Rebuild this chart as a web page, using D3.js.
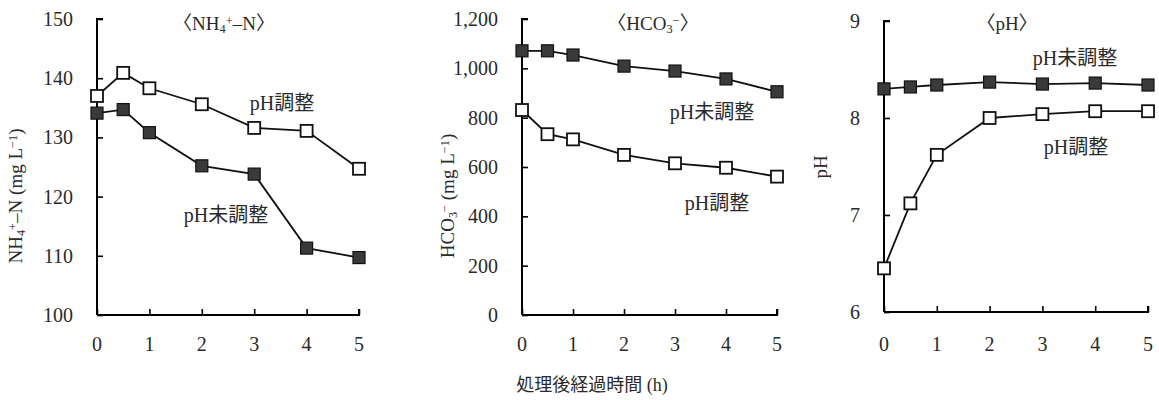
<!DOCTYPE html>
<html>
<head>
<meta charset="utf-8">
<script src="https://cdn.jsdelivr.net/npm/d3@7"></script>
<style>
  body { margin: 0; background: #fff; }
  svg { display: block; }
  text { font-family: "Liberation Serif", "DejaVu Serif", "Noto Sans CJK JP", serif; fill: #2a2a2a; }
  .jp { font-family: "Liberation Serif", "Noto Sans CJK JP", sans-serif; }
</style>
</head>
<body>
<svg width="1159" height="400"></svg>
<script>
const hours = [0, 0.5, 1, 2, 3, 4, 5];
const xTicks = [0, 1, 2, 3, 4, 5];

// NH4+-N (mg/L)
const nh4Adjusted = [137.0, 140.9, 138.3, 135.6, 131.6, 131.1, 124.7];
const nh4Unadjusted = [134.1, 134.7, 130.8, 125.2, 123.8, 111.3, 109.7];
const nh4Ticks = [100, 110, 120, 130, 140, 150];

// HCO3- (mg/L)
const hco3Adjusted = [831, 733, 712, 649, 615, 597, 561];
const hco3Unadjusted = [1071, 1071, 1054, 1009, 989, 957, 905];
const hco3Ticks = [0, 200, 400, 600, 800, 1000, 1200];

// pH
const phAdjusted = [6.45, 7.12, 7.62, 8.0, 8.04, 8.07, 8.07];
const phUnadjusted = [8.30, 8.32, 8.34, 8.37, 8.35, 8.36, 8.34];
const phTicks = [6, 7, 8, 9];

const svg = d3.select('svg');

const panels = [
  {
    left: 97, right: 359, top: 19, bottom: 315,
    domain: [100, 150], ticks: nh4Ticks, fmt: d3.format('d'),
    adjusted: nh4Adjusted, unadjusted: nh4Unadjusted,
    title: [['〈NH', 0], ['4', 1], ['+', -1], ['–N〉', 0]], titleX: 224,
    ylabel: [['NH', 0], ['4', 1], ['+', -1], ['–N (mg L', 0], ['−1', -1], [')', 0]], ylabelX: 22, ylabelY: 196,
    adjLabel: [282, 110], unadjLabel: [226, 222]
  },
  {
    left: 522, right: 777, top: 19, bottom: 315,
    domain: [0, 1200], ticks: hco3Ticks, fmt: d3.format(','),
    adjusted: hco3Adjusted, unadjusted: hco3Unadjusted,
    title: [['〈HCO', 0], ['3', 1], ['−', -1], ['〉', 0]], titleX: 653,
    ylabel: [['HCO', 0], ['3', 1], ['−', -1], [' (mg L', 0], ['−1', -1], [')', 0]], ylabelX: 454, ylabelY: 196,
    adjLabel: [717, 210], unadjLabel: [712, 119]
  },
  {
    left: 884, right: 1148, top: 21, bottom: 312,
    domain: [6, 9], ticks: phTicks, fmt: d3.format('d'),
    adjusted: phAdjusted, unadjusted: phUnadjusted,
    title: [['〈pH〉', 0]], titleX: 1007,
    ylabel: [['pH', 0]], ylabelX: 827, ylabelY: 167,
    adjLabel: [1076, 154], unadjLabel: [1075, 65]
  }
];

function richText(sel, parts, size) {
  parts.forEach(([s, shift]) => {
    const t = sel.append('tspan').text(s);
    if (shift !== 0) {
      t.attr('font-size', size * 0.65).attr('baseline-shift', shift > 0 ? '-25%' : '45%');
    }
  });
}

panels.forEach(p => {
  const x = d3.scaleLinear().domain([0, 5]).range([p.left, p.right]);
  const y = d3.scaleLinear().domain(p.domain).range([p.bottom, p.top]);
  const g = svg.append('g');

  // y axis, ticks pointing inward
  const yAxis = d3.axisRight(y).tickValues(p.ticks).tickSize(6).tickFormat('');
  g.append('g').attr('transform', `translate(${p.left},0)`).call(yAxis)
    .call(a => a.select('.domain').attr('stroke-width', 2).attr('d', `M6,${p.top}H0V${p.bottom}`))
    .call(a => a.selectAll('.tick line').attr('stroke-width', 1.6));

  g.selectAll('.ylab').data(p.ticks).enter().append('text')
    .attr('x', p.left - 24).attr('y', d => y(d)).attr('dy', '0.35em')
    .attr('text-anchor', 'end').attr('font-size', 20)
    .text(d => p.fmt(d));

  // x axis, ticks pointing up
  const xAxis = d3.axisTop(x).tickValues(xTicks).tickSize(6).tickFormat('');
  g.append('g').attr('transform', `translate(0,${p.bottom})`).call(xAxis)
    .call(a => a.select('.domain').attr('stroke-width', 2).attr('d', `M${p.left},0H${p.right}V-6`))
    .call(a => a.selectAll('.tick line').attr('stroke-width', 1.6));

  g.selectAll('.xlab').data(xTicks).enter().append('text')
    .attr('x', d => x(d)).attr('y', 351)
    .attr('text-anchor', 'middle').attr('font-size', 20)
    .text(d => d);

  const line = d3.line().x((d, i) => x(hours[i])).y(d => y(d));
  [p.adjusted, p.unadjusted].forEach(series => {
    g.append('path').datum(series).attr('d', line)
      .attr('fill', 'none').attr('stroke', '#111').attr('stroke-width', 1.8);
  });

  const s = 12;
  g.selectAll('.adj').data(p.adjusted).enter().append('rect')
    .attr('x', (d, i) => x(hours[i]) - s / 2).attr('y', d => y(d) - s / 2)
    .attr('width', s).attr('height', s)
    .attr('fill', '#fff').attr('stroke', '#111').attr('stroke-width', 1.8);
  g.selectAll('.unadj').data(p.unadjusted).enter().append('rect')
    .attr('x', (d, i) => x(hours[i]) - s / 2).attr('y', d => y(d) - s / 2)
    .attr('width', s).attr('height', s)
    .attr('fill', '#3a3a3a').attr('stroke', '#111').attr('stroke-width', 1.2);

  // title
  const t = g.append('text').attr('x', p.titleX).attr('y', 30)
    .attr('text-anchor', 'middle').attr('font-size', 19);
  richText(t, p.title, 19);

  // y label
  const yl = g.append('text')
    .attr('transform', `translate(${p.ylabelX},${p.ylabelY}) rotate(-90)`)
    .attr('text-anchor', 'middle').attr('font-size', 19);
  richText(yl, p.ylabel, 19);

  g.append('text').attr('class', 'jp').attr('x', p.adjLabel[0]).attr('y', p.adjLabel[1])
    .attr('text-anchor', 'middle').attr('font-size', 20).text('pH調整');
  g.append('text').attr('class', 'jp').attr('x', p.unadjLabel[0]).attr('y', p.unadjLabel[1])
    .attr('text-anchor', 'middle').attr('font-size', 20).text('pH未調整');
});

svg.append('text').attr('class', 'jp').attr('x', 592).attr('y', 391)
  .attr('text-anchor', 'middle').attr('font-size', 18).text('処理後経過時間 (h)');
</script>
</body>
</html>
